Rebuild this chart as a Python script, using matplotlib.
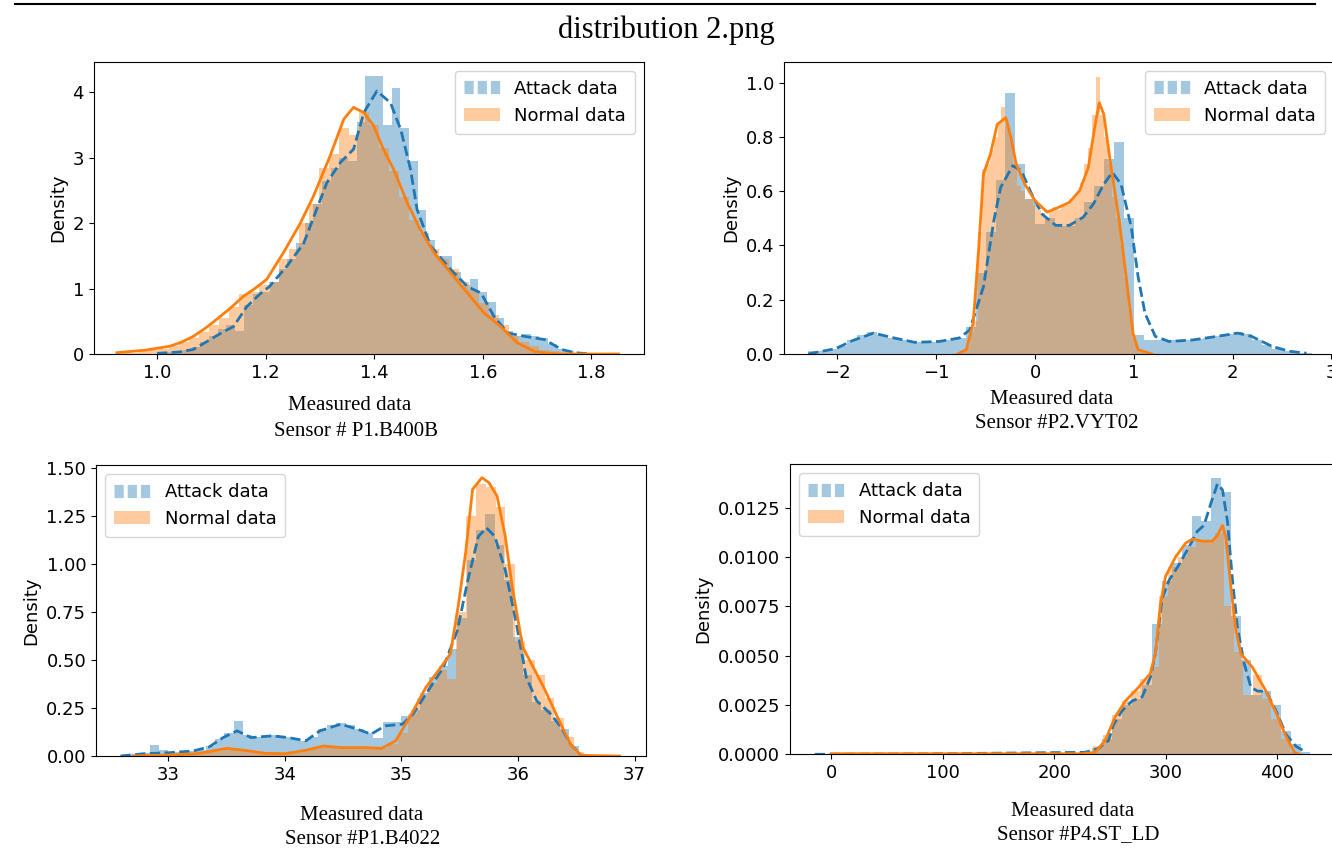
import numpy as np
import matplotlib
matplotlib.use("Agg")
import matplotlib.pyplot as plt
from matplotlib.lines import Line2D
from matplotlib.patches import Patch
from matplotlib.ticker import MultipleLocator, FormatStrFormatter

BLUE = '#1f77b4'
ORANGE = '#ff7f0e'

# ---- sensor P1.B400B ----
p1_atk_start, p1_atk_width = 1.0, 0.016
p1_atk_hist = [0.02, 0.03, 0.04, 0.06, 0.10, 0.18, 0.28, 0.38, 0.45, 0.35,
               0.75, 0.92, 0.95, 1.10, 1.30, 1.45, 1.70, 2.00, 2.30, 2.65,
               2.85, 3.00, 2.95, 3.55, 4.25, 4.25, 3.50, 4.07, 3.45, 2.95,
               2.20, 1.75, 1.50, 1.50, 1.25, 1.05, 1.15, 0.95, 0.80, 0.55,
               0.35, 0.28, 0.30, 0.27, 0.25, 0.15, 0.08, 0.04, 0.02]
p1_nrm_start, p1_nrm_width = 0.93, 0.0184
p1_nrm_hist = [0.01, 0.02, 0.05, 0.06, 0.08, 0.12, 0.18, 0.25, 0.33, 0.45,
               0.55, 0.72, 0.92, 0.95, 1.05, 1.10, 1.45, 1.60, 2.00, 2.30,
               2.85, 3.05, 3.45, 3.35, 3.70, 3.50, 3.15, 2.80, 2.40, 2.05,
               1.85, 1.60, 1.45, 1.30, 1.10, 0.98, 0.78, 0.60, 0.45, 0.28,
               0.18, 0.12, 0.06, 0.04, 0.02, 0.01, 0.01, 0.0, 0.0, 0.01]
p1_atk_kde_x = [1.00, 1.04, 1.067, 1.098, 1.12, 1.141, 1.165, 1.19, 1.207, 1.239, 1.270, 1.294,
                1.313, 1.338, 1.362, 1.381, 1.405, 1.430, 1.449, 1.467, 1.479, 1.504,
                1.541, 1.572, 1.597, 1.621, 1.646, 1.677, 1.714, 1.745, 1.77, 1.80]
p1_atk_kde_y = [0.01, 0.03, 0.07, 0.22, 0.33, 0.42, 0.72, 0.92, 1.03, 1.34, 1.69, 2.21,
                2.62, 2.93, 3.13, 3.69, 4.02, 3.84, 3.43, 2.82, 2.21, 1.65,
                1.29, 1.03, 0.93, 0.57, 0.32, 0.27, 0.22, 0.07, 0.02, 0.0]
p1_nrm_kde_x = [0.926, 0.98, 1.024, 1.045, 1.067, 1.090, 1.110, 1.135, 1.159, 1.180, 1.202, 1.233,
                1.264, 1.288, 1.319, 1.344, 1.362, 1.381, 1.399, 1.417, 1.436, 1.461,
                1.485, 1.510, 1.541, 1.572, 1.602, 1.633, 1.664, 1.695, 1.72, 1.745, 1.85]
p1_nrm_kde_y = [0.02, 0.06, 0.12, 0.18, 0.27, 0.40, 0.53, 0.70, 0.88, 1.00, 1.14, 1.55,
                2.0, 2.41, 3.03, 3.59, 3.77, 3.69, 3.49, 3.13, 2.82, 2.31,
                1.90, 1.55, 1.24, 0.93, 0.63, 0.42, 0.17, 0.04, 0.01, 0.0, 0.0]

# ---- sensor P2.VYT02 ----
p2_atk_start, p2_atk_width = -2.30, 0.1
p2_atk_hist = [0.01, 0.01, 0.02, 0.03, 0.05, 0.07, 0.08, 0.07, 0.06, 0.05,
               0.045, 0.045, 0.045, 0.05, 0.05, 0.06, 0.10, 0.30, 0.45, 0.64,
               0.96, 0.70, 0.57, 0.48, 0.50, 0.47, 0.47, 0.50, 0.56, 0.62,
               0.72, 0.78, 0.50, 0.07, 0.05, 0.05, 0.05, 0.05, 0.05, 0.055,
               0.06, 0.065, 0.075, 0.08, 0.075, 0.05, 0.035, 0.02, 0.01, 0.005,
               0.003]
p2_nrm_start, p2_nrm_width = -0.78, 0.04
p2_nrm_hist = [0.0, 0.01, 0.03, 0.08, 0.12, 0.45, 0.68, 0.70, 0.75, 0.80,
               0.85, 0.91, 0.84, 0.80, 0.70, 0.62, 0.60, 0.57, 0.57, 0.55,
               0.53, 0.52, 0.50, 0.53, 0.54, 0.53, 0.55, 0.55, 0.57, 0.58,
               0.60, 0.63, 0.70, 0.76, 0.88, 1.02, 0.88, 0.80, 0.70, 0.58,
               0.50, 0.40, 0.28, 0.16, 0.06, 0.02, 0.01, 0.0, 0.0, 0.0]
p2_atk_kde_x = [-2.296, -2.017, -1.843, -1.635, -1.426, -1.217, -0.974, -0.765, -0.661, -0.522,
                -0.417, -0.348, -0.226, -0.139, -0.035, 0.070, 0.209, 0.348, 0.487, 0.591,
                0.696, 0.783, 0.870, 0.974, 1.043, 1.113, 1.217, 1.357, 1.600, 1.843,
                2.052, 2.191, 2.400, 2.574, 2.748]
p2_atk_kde_y = [0.0, 0.02, 0.05, 0.077, 0.059, 0.043, 0.046, 0.059, 0.089, 0.248,
                0.492, 0.614, 0.694, 0.675, 0.590, 0.516, 0.474, 0.474, 0.504, 0.553,
                0.626, 0.669, 0.626, 0.468, 0.285, 0.150, 0.065, 0.046, 0.052, 0.065,
                0.077, 0.065, 0.028, 0.01, 0.003]
p2_nrm_kde_x = [-0.783, -0.696, -0.626, -0.574, -0.522, -0.452, -0.383, -0.296, -0.243, -0.191,
                -0.104, 0.0, 0.122, 0.243, 0.348, 0.452, 0.539, 0.609, 0.650, 0.696,
                0.765, 0.852, 0.922, 0.991, 1.043, 1.183]
p2_nrm_kde_y = [0.0, 0.016, 0.114, 0.37, 0.663, 0.736, 0.846, 0.871, 0.797, 0.70,
                0.626, 0.565, 0.523, 0.541, 0.559, 0.602, 0.687, 0.846, 0.926, 0.883,
                0.70, 0.492, 0.285, 0.077, 0.016, 0.0]

# ---- sensor P1.B4022 ----
p3_atk_start, p3_atk_width = 32.60, 0.08
p3_atk_hist = [0.005, 0.01, 0.015, 0.055, 0.03, 0.02, 0.02, 0.025, 0.03, 0.05,
               0.09, 0.12, 0.185, 0.11, 0.10, 0.10, 0.11, 0.10, 0.09, 0.08,
               0.10, 0.14, 0.16, 0.17, 0.16, 0.14, 0.12, 0.095, 0.175, 0.175,
               0.21, 0.24, 0.33, 0.41, 0.47, 0.56, 0.72, 1.02, 1.18, 1.26,
               1.10, 0.92, 0.62, 0.42, 0.28, 0.24, 0.18, 0.14, 0.05, 0.01]
p3_nrm_start, p3_nrm_width = 32.70, 0.084
p3_nrm_hist = [0.003, 0.005, 0.006, 0.007, 0.008, 0.01, 0.015, 0.025, 0.035, 0.04,
               0.035, 0.028, 0.02, 0.015, 0.013, 0.012, 0.02, 0.03, 0.04, 0.05,
               0.048, 0.045, 0.044, 0.044, 0.042, 0.04, 0.06, 0.12, 0.22, 0.30,
               0.38, 0.45, 0.40, 0.75, 1.25, 1.42, 1.40, 1.30, 1.00, 0.60,
               0.50, 0.42, 0.30, 0.20, 0.10, 0.02, 0.005, 0.003, 0.002, 0.002]
p3_atk_kde_x = [32.59, 32.79, 33.0, 33.21, 33.35, 33.47, 33.59, 33.71, 33.89, 34.03,
                34.18, 34.30, 34.48, 34.62, 34.74, 34.86, 35.01, 35.10, 35.21, 35.36,
                35.48, 35.57, 35.66, 35.73, 35.80, 35.89, 35.98, 36.07, 36.16, 36.28,
                36.37, 36.45, 36.54]
p3_atk_kde_y = [0.0, 0.012, 0.017, 0.026, 0.047, 0.096, 0.131, 0.096, 0.105, 0.096,
                0.079, 0.131, 0.166, 0.140, 0.114, 0.157, 0.166, 0.219, 0.323, 0.463,
                0.656, 0.918, 1.145, 1.189, 1.145, 0.970, 0.708, 0.411, 0.288, 0.219,
                0.149, 0.061, 0.005]
p3_nrm_kde_x = [32.70, 33.0, 33.24, 33.38, 33.50, 33.65, 33.83, 34.0, 34.18, 34.33,
                34.48, 34.68, 34.83, 34.95, 35.07, 35.21, 35.36, 35.42, 35.49, 35.55,
                35.61, 35.69, 35.75, 35.82, 35.89, 35.95, 36.04, 36.13, 36.22, 36.34,
                36.45, 36.54, 36.87]
p3_nrm_kde_y = [0.0, 0.005, 0.012, 0.026, 0.040, 0.030, 0.014, 0.012, 0.030, 0.052,
                0.044, 0.044, 0.040, 0.079, 0.201, 0.358, 0.481, 0.533, 0.795, 1.058,
                1.390, 1.451, 1.425, 1.355, 1.145, 0.883, 0.568, 0.463, 0.358, 0.201,
                0.061, 0.003, 0.0]

# ---- sensor P4.ST_LD ----
p4_atk_start, p4_atk_width = -15.0, 8.9
p4_atk_hist = [0.00003, 0.0, 0.0, 0.0, 0.0, 0.0, 0.0, 0.0, 0.0, 0.0,
               0.0, 0.0, 0.0, 0.0, 0.0, 0.0, 0.0, 0.0, 0.0, 0.0,
               0.0, 0.0, 0.0, 0.0, 0.0, 0.0, 0.0, 0.0001, 0.0003, 0.0008,
               0.0018, 0.0025, 0.0028, 0.0035, 0.0066, 0.0088, 0.0097, 0.0106, 0.0121, 0.0118,
               0.0140, 0.0133, 0.0070, 0.0048, 0.0030, 0.0032, 0.0025, 0.0012, 0.0005, 0.0001]
p4_nrm_start, p4_nrm_width = 0.0, 8.4
p4_nrm_hist = [0.00003, 0.00003, 0.00003, 0.00003, 0.00003, 0.00003, 0.00003, 0.00003, 0.00003, 0.00003,
               0.00003, 0.00003, 0.00003, 0.00003, 0.00003, 0.00003, 0.00003, 0.00003, 0.00003, 0.00003,
               0.00003, 0.00003, 0.00003, 0.00003, 0.00003, 0.00003, 0.00003, 0.0001, 0.0004, 0.0010,
               0.0020, 0.0027, 0.0032, 0.0038, 0.0044, 0.0080, 0.0095, 0.0100, 0.0105, 0.0108,
               0.0108, 0.0112, 0.0075, 0.0052, 0.0030, 0.0040, 0.0028, 0.0018, 0.0008, 0.0001]
p4_atk_kde_x = [-15, 100, 227.7, 239.7, 248.7, 253.2, 260.8, 269.8, 278.8, 286.3,
                290.8, 296.8, 302.9, 311.9, 320.9, 328.4, 334.4, 340.5, 346.5, 351.0,
                355.5, 360.0, 364.5, 370.5, 376.5, 382.6, 390.1, 399.1, 408.1, 417.1,
                426.2]
p4_atk_kde_y = [0.0, 0.00003, 0.0001, 0.0003, 0.0007, 0.0015, 0.0022, 0.0027, 0.0029, 0.0039,
                0.0051, 0.0079, 0.0088, 0.0096, 0.0105, 0.0113, 0.0116, 0.0127, 0.0137, 0.0134,
                0.0118, 0.0088, 0.0064, 0.0046, 0.0034, 0.0032, 0.0032, 0.0022, 0.0010, 0.0004,
                0.0001]
p4_nrm_kde_x = [0, 149.5, 224.7, 236.7, 245.7, 254.7, 263.8, 275.8, 286.3, 290.8,
                295.3, 299.8, 308.9, 317.9, 323.9, 332.9, 341.9, 346.5, 351.0, 354.0,
                358.5, 363.0, 367.5, 378.0, 390.1, 399.1, 408.1, 415.6, 420.2]
p4_nrm_kde_y = [0.00003, 0.00003, 0.00003, 0.0001, 0.0007, 0.0019, 0.0027, 0.0034, 0.0041, 0.0051,
                0.0076, 0.0090, 0.0100, 0.0107, 0.0109, 0.0108, 0.0108, 0.0111, 0.0116, 0.0110,
                0.0085, 0.0063, 0.0051, 0.0044, 0.0032, 0.0021, 0.0009, 0.0001, 0.0]

sensor_names = ['Sensor # P1.B400B', 'Sensor #P2.VYT02', 'Sensor #P1.B4022', 'Sensor #P4.ST_LD']

W, H = 1332, 848
fig = plt.figure(figsize=(W / 100, H / 100), dpi=100)

# top rule and the document caption
fig.add_artist(Line2D([15 / W, 1315 / W], [1 - 3.5 / H, 1 - 3.5 / H], color='black', lw=1.5))
fig.text(666 / W, 1 - 30 / H, 'distribution 2.png', ha='center', va='center',
         fontsize=22, family='Liberation Serif')


def add_ax(left, top, right, bottom):
    return fig.add_axes([left / W, 1 - bottom / H, (right - left) / W, (bottom - top) / H])


panels = [
    dict(box=(93.7, 61.7, 644, 354), xlim=(0.8834, 1.897), ytop=4.468, loc='upper right',
         ystep=1, yfmt='%d',
         atk=(p1_atk_start, p1_atk_width, p1_atk_hist), nrm=(p1_nrm_start, p1_nrm_width, p1_nrm_hist),
         akde=(p1_atk_kde_x, p1_atk_kde_y), nkde=(p1_nrm_kde_x, p1_nrm_kde_y),
         lab=(350, 406, 356, 431)),
    dict(box=(784.3, 61.7, 1334, 354), xlim=(-2.538, 3.026), ytop=1.077, loc='upper right',
         ystep=0.2, yfmt='%.1f',
         atk=(p2_atk_start, p2_atk_width, p2_atk_hist), nrm=(p2_nrm_start, p2_nrm_width, p2_nrm_hist),
         akde=(p2_atk_kde_x, p2_atk_kde_y), nkde=(p2_nrm_kde_x, p2_nrm_kde_y),
         lab=(1052, 400, 1057, 423)),
    dict(box=(96, 465, 646.3, 756), xlim=(32.38, 37.1), ytop=1.517, loc='upper left',
         ystep=0.25, yfmt='%.2f',
         atk=(p3_atk_start, p3_atk_width, p3_atk_hist), nrm=(p3_nrm_start, p3_nrm_width, p3_nrm_hist),
         akde=(p3_atk_kde_x, p3_atk_kde_y), nkde=(p3_nrm_kde_x, p3_nrm_kde_y),
         lab=(362, 816, 363, 839)),
    dict(box=(789.9, 464, 1340, 754.3), xlim=(-37.3, 456.5), ytop=0.01471, loc='upper left',
         ystep=0.0025, yfmt='%.4f',
         atk=(p4_atk_start, p4_atk_width, p4_atk_hist), nrm=(p4_nrm_start, p4_nrm_width, p4_nrm_hist),
         akde=(p4_atk_kde_x, p4_atk_kde_y), nkde=(p4_nrm_kde_x, p4_nrm_kde_y),
         lab=(1073, 811, 1078, 835)),
]

attack_handle = Line2D([], [], color=BLUE, alpha=0.4, lw=9.5, linestyle=(0, (0.7, 0.3)),
                       dash_capstyle='butt')
normal_handle = Patch(facecolor=ORANGE, alpha=0.4, edgecolor='none')

for p, sensor in zip(panels, sensor_names):
    ax = add_ax(*p['box'])
    s, w, h = p['atk']
    ax.bar(s + w * np.arange(len(h)), h, width=w, align='edge', color=BLUE, alpha=0.4, linewidth=0)
    ax.plot(p['akde'][0], p['akde'][1], color=BLUE, lw=2, ls='--')
    s, w, h = p['nrm']
    ax.bar(s + w * np.arange(len(h)), h, width=w, align='edge', color=ORANGE, alpha=0.4, linewidth=0)
    ax.plot(p['nkde'][0], p['nkde'][1], color=ORANGE, lw=2)

    ax.set_xlim(*p['xlim'])
    ax.set_ylim(0, p['ytop'])
    ax.yaxis.set_major_locator(MultipleLocator(p['ystep']))
    ax.yaxis.set_major_formatter(FormatStrFormatter(p['yfmt']))
    ax.set_ylabel('Density', fontsize=13)
    ax.tick_params(labelsize=13)
    ax.legend([attack_handle, normal_handle], ['Attack data', 'Normal data'],
              loc=p['loc'], fontsize=13, borderpad=0.5)

    x1, y1, x2, y2 = p['lab']
    fig.text(x1 / W, 1 - y1 / H, 'Measured data', ha='center', va='center',
             fontsize=15, family='Liberation Serif')
    fig.text(x2 / W, 1 - y2 / H, sensor, ha='center', va='center',
             fontsize=15, family='Liberation Serif')

fig.savefig('out.png', dpi=100)
